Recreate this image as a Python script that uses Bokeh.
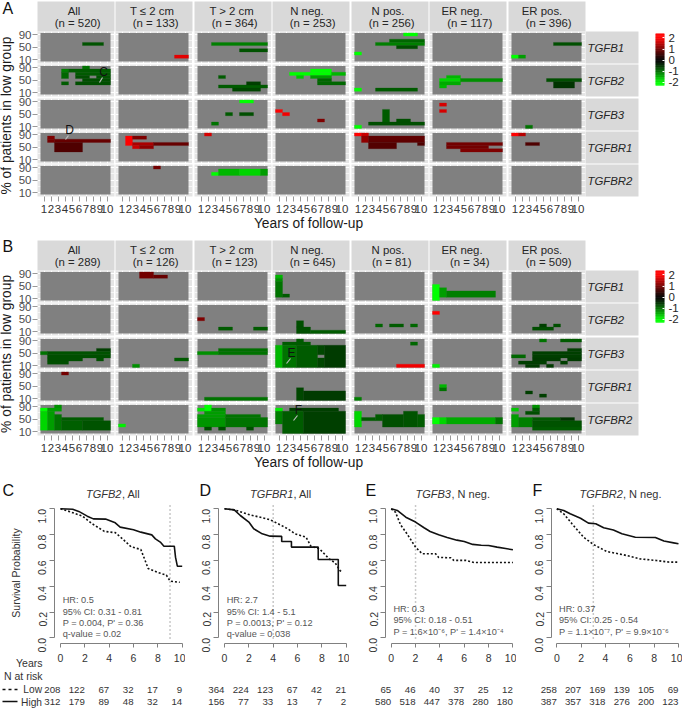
import math
from bokeh.plotting import figure
from bokeh.embed import file_html
from bokeh.resources import INLINE
from bokeh.core.properties import value
from bokeh.models import (ColumnDataSource, Range1d, LinearAxis, Grid, FixedTicker, LinearColorMapper,
                          NumeralTickFormatter, Label, Column)
from bokeh.transform import transform

# ------------------------------------------------------------------ data
GROUPS = ["All", "T ≤ 2 cm", "T > 2 cm", "N neg.", "N pos.", "ER neg.", "ER pos."]
GENES = ["TGFB1", "TGFB2", "TGFB3", "TGFBR1", "TGFBR2"]
N_A = [520, 133, 364, 253, 256, 117, 396]
N_B = [289, 126, 123, 645, 81, 34, 509]
YEAR_TICKS = [1, 2, 3, 4, 5, 6, 7, 8, 9, 10]
PCT_LEVELS = [10, 20, 30, 40, 50, 60, 70, 80, 90]
PCT_TICKS = [10, 50, 90]
LEGEND_TICKS = [-2, -1, 0, 1, 2]

# runs of significant cells: (group, percent levels, first year, last year, log-scale value)
A_TGFB1 = [
    ("All", (60,), 7, 9, -0.75), ("T ≤ 2 cm", (20,), 9, 10, 1.8),
    ("T > 2 cm", (60,), 3, 10, -1.1), ("T > 2 cm", (40,), 7, 10, -0.75),
    ("N pos.", (90,), 8, 9, -2), ("N pos.", (70,), 6, 10, -0.9), ("N pos.", (60,), 4, 10, -1.1),
    ("N pos.", (50,), 7, 9, -0.7), ("N pos.", (30,), 1, 1, -2),
    ("ER pos.", (60,), 7, 10, -0.7), ("ER pos.", (20,), 1, 1, -2), ("ER pos.", (20,), 2, 2, -1.3),
]
A_TGFB2 = [
    ("All", (90,), 7, 7, -1.0), ("All", (80,), 4, 4, -1.1), ("All", (80,), 5, 10, -0.8),
    ("All", (70, 60), 4, 4, -0.9), ("All", (70,), 6, 10, -0.8), ("All", (60,), 6, 7, -0.7),
    ("All", (60,), 9, 10, -0.75), ("All", (50,), 7, 10, -0.7), ("All", (40,), 4, 4, -0.8),
    ("All", (40,), 6, 10, -0.7),
    ("T > 2 cm", (60,), 4, 4, -0.8), ("T > 2 cm", (30,), 4, 10, -0.8),
    ("T > 2 cm", (20,), 6, 9, -0.65), ("T > 2 cm", (40,), 8, 9, -0.6),
    ("N neg.", (80,), 6, 8, -2), ("N neg.", (70,), 3, 8, -2), ("N neg.", (70,), 9, 10, -1.5),
    ("N neg.", (60,), 4, 4, -1.6), ("N neg.", (60,), 6, 8, -1.3), ("N neg.", (50,), 7, 8, -0.9),
    ("N neg.", (40,), 7, 10, -0.9),
    ("N pos.", (20,), 1, 1, -2), ("N pos.", (20,), 4, 9, -0.8),
    ("ER neg.", (60,), 3, 4, -1.5), ("ER neg.", (50,), 2, 4, -1.7), ("ER neg.", (50,), 5, 10, -1.2),
    ("ER neg.", (40,), 2, 4, -1.4), ("ER neg.", (30,), 2, 2, -1.5),
    ("ER pos.", (50,), 6, 10, -0.7), ("ER pos.", (40, 30), 7, 9, -0.5),
]
A_TGFB3 = [
    ("T > 2 cm", (90,), 7, 8, -2), ("T > 2 cm", (50,), 5, 5, -0.8), ("T > 2 cm", (50,), 7, 8, -0.7),
    ("T > 2 cm", (20,), 3, 3, -1.0),
    ("N neg.", (60,), 1, 1, 2), ("N neg.", (50,), 2, 2, 1.9), ("N neg.", (30,), 7, 7, 1.1),
    ("N pos.", (10,), 1, 1, -2), ("N pos.", (20,), 3, 10, -0.7), ("N pos.", (60, 50, 40, 30), 5, 5, -0.8),
    ("N pos.", (30,), 7, 8, -0.7),
    ("ER neg.", (80, 60), 2, 2, 1.7),
    ("ER pos.", (10,), 3, 3, -1.0),
]
A_TGFBR1 = [
    ("All", (80,), 2, 2, 1.1), ("All", (70,), 2, 2, 1.0), ("All", (70,), 3, 10, 0.9),
    ("All", (60, 50, 40), 3, 6, 0.7),
    ("T ≤ 2 cm", (80, 70, 60), 2, 2, 2), ("T ≤ 2 cm", (80,), 3, 4, 1.1), ("T ≤ 2 cm", (60,), 3, 5, 1.4),
    ("T ≤ 2 cm", (60,), 6, 10, 0.9), ("T ≤ 2 cm", (50,), 3, 3, 1.6), ("T ≤ 2 cm", (50,), 4, 5, 1.2),
    ("T > 2 cm", (90,), 2, 2, 1.7),
    ("N pos.", (90,), 1, 1, 2), ("N pos.", (90,), 2, 2, 1.6), ("N pos.", (80, 70), 2, 2, 1.2),
    ("N pos.", (80, 70), 3, 10, 0.85), ("N pos.", (60, 50), 3, 6, 0.75), ("N pos.", (60,), 10, 10, 0.7),
    ("ER neg.", (60,), 3, 10, 1.0), ("ER neg.", (50,), 3, 8, 1.0), ("ER neg.", (40,), 5, 10, 1.1),
    ("ER pos.", (90,), 1, 1, 2), ("ER pos.", (90,), 2, 2, 1.5), ("ER pos.", (60,), 3, 4, 0.7),
]
A_TGFBR2 = [
    ("T ≤ 2 cm", (90,), 6, 6, 1.0),
    ("T > 2 cm", (70,), 3, 3, -2), ("T > 2 cm", (80, 70), 4, 6, -1.5), ("T > 2 cm", (80, 70), 7, 9, -1.7),
    ("T > 2 cm", (80, 70), 10, 10, -1.3),
]
B_TGFB1 = [
    ("T ≤ 2 cm", (90, 80), 4, 5, 1.0), ("T ≤ 2 cm", (80,), 6, 7, 0.9),
    ("N neg.", (80,), 1, 1, -1.5), ("N neg.", (70,), 1, 1, -1.2), ("N neg.", (60, 50, 40, 30, 20), 1, 1, -1.0),
    ("N neg.", (20,), 2, 2, -0.8),
    ("ER neg.", (50, 40, 30, 20, 10), 1, 1, -2), ("ER neg.", (40, 30, 20), 2, 2, -1.3),
    ("ER neg.", (30, 20), 3, 9, -1.1),
]
B_TGFB2 = [
    ("T > 2 cm", (50,), 1, 1, 1.1), ("T > 2 cm", (20,), 4, 5, -0.8), ("T > 2 cm", (20,), 9, 10, -0.8),
    ("N neg.", (40, 30), 4, 4, -0.7), ("N neg.", (20, 10), 4, 5, -0.7), ("N neg.", (10,), 6, 10, -0.8),
    ("N pos.", (30,), 4, 4, -0.9), ("N pos.", (30,), 6, 7, -0.8), ("N pos.", (30,), 9, 9, -0.9),
    ("ER neg.", (70,), 1, 1, 2),
    ("ER pos.", (20,), 4, 6, -0.7), ("ER pos.", (30,), 5, 5, -0.6), ("ER pos.", (30,), 7, 7, -0.7),
]
B_TGFB3 = [
    ("All", (60,), 9, 10, -0.6), ("All", (50,), 1, 1, -1.0), ("All", (50,), 2, 10, -0.75),
    ("All", (40,), 2, 10, -0.7), ("All", (30,), 2, 6, -0.7), ("All", (30,), 9, 9, -0.7),
    ("All", (20,), 2, 4, -0.7),
    ("T ≤ 2 cm", (10,), 3, 3, -1.2), ("T ≤ 2 cm", (30,), 9, 10, -0.8),
    ("T > 2 cm", (50,), 1, 3, -1.2), ("T > 2 cm", (50,), 4, 10, -1.0), ("T > 2 cm", (60,), 4, 10, -0.95),
    ("N neg.", (90,), 4, 4, -0.8), ("N neg.", (80,), 2, 5, -0.8),
    ("N neg.", (70, 60, 50, 40, 30, 20, 10), 1, 1, -1.5), ("N neg.", (70, 60, 50, 40, 30, 20, 10), 2, 3, -1.0),
    ("N neg.", (70, 60, 50, 40, 30, 20, 10), 4, 6, -0.8), ("N neg.", (70, 60, 50, 30, 20, 10), 7, 7, -0.65),
    ("N neg.", (70, 60, 50, 40, 30, 20, 10), 8, 10, -0.55),
    ("N pos.", (80,), 9, 9, -0.9), ("N pos.", (10,), 7, 10, 1.9),
    ("ER neg.", (10,), 1, 1, -1.9),
    ("ER pos.", (90,), 5, 5, -1.0), ("ER pos.", (90,), 8, 10, -0.8), ("ER pos.", (60,), 9, 10, -0.6),
    ("ER pos.", (50,), 4, 10, -0.6), ("ER pos.", (40,), 1, 2, -0.9), ("ER pos.", (40,), 4, 10, -0.6),
    ("ER pos.", (30,), 4, 7, -0.55), ("ER pos.", (30,), 9, 10, -0.55), ("ER pos.", (20,), 2, 5, -0.6),
    ("ER pos.", (20,), 8, 8, -0.6), ("ER pos.", (10,), 3, 4, -0.55), ("ER pos.", (10,), 6, 6, -0.55),
]
B_TGFBR1 = [
    ("All", (90,), 4, 4, 1.0),
    ("T > 2 cm", (10,), 2, 10, -1.0),
    ("N neg.", (40, 30, 20, 10), 4, 4, -0.65), ("N neg.", (30, 20, 10), 5, 10, -0.55),
    ("N pos.", (10,), 1, 1, -1.1),
    ("ER neg.", (50,), 2, 2, -1.5), ("ER neg.", (40,), 2, 2, -1.0),
    ("ER pos.", (30,), 3, 3, -0.6), ("ER pos.", (20,), 5, 5, -0.6),
]
B_TGFBR2 = [
    ("All", (90,), 3, 3, -1.2), ("All", (80,), 1, 1, -2), ("All", (80,), 2, 3, -1.3),
    ("All", (70, 60, 50, 40, 30, 20), 1, 1, -1.7), ("All", (70, 60, 50, 40, 30, 20), 2, 2, -1.3),
    ("All", (60, 50, 40, 30, 20), 3, 3, -1.0), ("All", (50,), 4, 9, -0.8), ("All", (40, 30, 20), 4, 6, -0.85),
    ("All", (40, 30, 20), 7, 10, -0.75),
    ("T ≤ 2 cm", (30,), 1, 1, -1.9),
    ("T > 2 cm", (90, 80), 2, 2, -2), ("T > 2 cm", (80,), 1, 1, -1.8), ("T > 2 cm", (80,), 3, 4, -1.2),
    ("T > 2 cm", (70,), 2, 4, -1.3), ("T > 2 cm", (60,), 1, 4, -1.3), ("T > 2 cm", (60,), 5, 9, -1.0),
    ("T > 2 cm", (50, 40, 30), 1, 4, -1.25), ("T > 2 cm", (50, 40, 30), 5, 10, -1.0),
    ("T > 2 cm", (20,), 2, 2, -0.7), ("T > 2 cm", (20,), 4, 4, -0.7), ("T > 2 cm", (20,), 8, 8, -0.7),
    ("N neg.", (80,), 1, 1, -1.9), ("N neg.", (70, 60, 50, 40), 1, 1, -1.1),
    ("N neg.", (80,), 3, 9, -0.6), ("N neg.", (70, 60, 50, 40, 30, 20, 10), 2, 4, -0.8),
    ("N neg.", (70, 60, 50, 40, 30, 20, 10), 5, 10, -0.6),
    ("N pos.", (70, 60, 50, 40, 30), 1, 1, -1.7), ("N pos.", (50,), 2, 3, -0.8), ("N pos.", (60, 50), 4, 4, -0.8),
    ("N pos.", (60, 50, 40, 30), 5, 7, -0.7), ("N pos.", (70, 60, 50, 40, 30), 8, 9, -0.75),
    ("N pos.", (60, 50, 40, 30), 10, 10, -0.8),
    ("ER neg.", (50, 40), 1, 1, -2), ("ER neg.", (50, 40), 2, 2, -1.7), ("ER neg.", (50, 40), 3, 9, -1.4),
    ("ER neg.", (50, 40), 10, 10, -1.0),
    ("ER pos.", (80,), 1, 1, -1.6), ("ER pos.", (90,), 4, 4, -1.2), ("ER pos.", (80,), 4, 4, -0.8),
    ("ER pos.", (70,), 3, 4, -0.7), ("ER pos.", (60, 50, 40, 30), 1, 1, -1.3),
    ("ER pos.", (50, 40, 30), 2, 3, -1.1), ("ER pos.", (50,), 4, 7, -0.8), ("ER pos.", (50,), 8, 9, -0.5),
    ("ER pos.", (40, 30), 4, 10, -0.75), ("ER pos.", (20,), 4, 10, -0.8),
]
RUNS_A = [A_TGFB1, A_TGFB2, A_TGFB3, A_TGFBR1, A_TGFBR2]
RUNS_B = [B_TGFB1, B_TGFB2, B_TGFB3, B_TGFBR1, B_TGFBR2]

# survival curves
C_high_t = [0, 1, 1.5, 2.2, 2.7, 3.7, 4.5, 4.9, 6.0, 6.6, 7.5, 7.8, 8.2, 8.5, 9.35, 9.45, 9.6, 10]
C_high_s = [1, .997, .98, .943, .922, .92, .891, .858, .837, .819, .798, .767, .742, .71, .71, .625, .555, .555]
C_low_t = [0, .7, 1.8, 2.6, 3.6, 4.5, 5.1, 5.8, 6.6, 7.0, 7.2, 8.0, 8.7, 9.0, 9.8]
C_low_s = [1, .98, .943, .884, .825, .815, .767, .705, .685, .588, .537, .506, .486, .44, .43]
D_high_t = [0, .8, 1.3, 2, 2.4, 3.1, 3.75, 4.7, 4.7, 5.5, 5.5, 7.7, 7.7, 9.35, 9.35, 10]
D_high_s = [1, .992, .948, .897, .845, .806, .788, .786, .747, .747, .703, .703, .607, .607, .406, .406]
D_low_t = [0, .8, 2.1, 3.5, 4, 5.2, 5.8, 6.7, 7.1, 7.8, 8.6, 9.1, 9.5, 9.7]
D_low_s = [1, .992, .953, .922, .904, .845, .806, .78, .71, .69, .612, .58, .52, .51]
E_high_t = [0, .5, 1.2, 2, 2.7, 3.2, 3.9, 4.6, 5.4, 6, 6.7, 7.4, 8, 8.7, 9.4, 10]
E_high_s = [1, .987, .935, .897, .853, .824, .798, .778, .757, .747, .724, .718, .716, .703, .692, .682]
E_low_t = [0, .35, .77, 1.3, 2, 2.55, 3.65, 3.9, 4.9, 5.15, 6.1, 6.8, 10]
E_low_s = [1, .974, .876, .806, .703, .651, .651, .623, .62, .6, .6, .584, .584]
F_high_t = [0, .57, 1.1, 1.95, 2.6, 3.2, 3.85, 4.65, 5.35, 6.45, 8.1, 8.8, 9.6, 10]
F_high_s = [1, .987, .961, .927, .889, .884, .853, .835, .806, .78, .778, .75, .736, .729]
F_low_t = [0, .57, 1.25, 2.2, 3, 4.1, 5.5, 6.85, 8.2, 9.2, 10]
F_low_s = [1, .961, .884, .78, .724, .669, .643, .612, .599, .587, .587]
CUT_YEARS = [9, 4, 2, 3]
RISK_YEARS = [0, 2, 4, 6, 8, 10]
RISK_LOW = [[208, 122, 67, 32, 17, 9], [364, 224, 123, 67, 42, 21], [65, 46, 40, 37, 25, 12], [258, 207, 169, 139, 105, 69]]
RISK_HIGH = [[312, 179, 89, 48, 32, 14], [156, 77, 33, 13, 7, 2], [580, 518, 447, 378, 280, 180], [387, 357, 318, 276, 200, 123]]
S_TICKS = [0, .2, .4, .6, .8, 1]
T_TICKS = [0, 2, 4, 6, 8, 10]
KM_GENE = ["TGFB2", "TGFBR1", "TGFB3", "TGFBR2"]
KM_GROUP = [", All", ", All", ", N neg.", ", N neg."]
KM_STATS = [
    ["HR: 0.5", "95% CI: 0.31 - 0.81", "P = 0.004, P' = 0.36", "q-value = 0.02"],
    ["HR: 2.7", "95% CI: 1.4 - 5.1", "P = 0.0013, P' = 0.12", "q-value = 0.038"],
    ["HR: 0.3", "95% CI: 0.18 - 0.51", "P = 1.6×10⁻⁶, P' = 1.4×10⁻⁴"],
    ["HR: 0.37", "95% CI: 0.25 - 0.54", "P = 1.1×10⁻⁷, P' = 9.9×10⁻⁶"],
]
KM_CURVES = [(C_low_t, C_low_s, C_high_t, C_high_s), (D_low_t, D_low_s, D_high_t, D_high_s),
             (E_low_t, E_low_s, E_high_t, E_high_s), (F_low_t, F_low_s, F_high_t, F_high_s)]

# ------------------------------------------------------------------ style and layout
FONT = "Liberation Sans"
PW, PH = 77, 32
PANEL_X = [37, 115, 194, 272, 351, 429, 508]
ROW_Y = [31, 64, 98, 131, 164]
B_SHIFT = 239
STRIP_DX = [-2, -2, -1.3, -4, -2, -6, -5]
CELL = 7.0
GAMMA = 1.15
GREEN_RED = []
for i in range(129):
    g = int(round(255 * ((64 - i) / 64) ** GAMMA)) if i <= 64 else 0
    r = int(round(255 * ((i - 64) / 64) ** GAMMA)) if i > 64 else 0
    GREEN_RED.append("#%02x%02x00" % (r, g))
MAPPER = LinearColorMapper(palette=GREEN_RED, low=-2, high=2)


def place(fig, left, top):
    fig.styles = {"position": "absolute", "left": f"{left}px", "top": f"{top}px"}
    return fig


def bare(width, height, x_range, y_range, **borders):
    fig = figure(width=width, height=height, x_range=x_range, y_range=y_range, toolbar_location=None,
                 output_backend="svg", x_axis_location=None, y_axis_location=None, min_border=0,
                 min_border_left=borders.get("left", 0), min_border_right=borders.get("right", 0),
                 min_border_top=borders.get("top", 0), min_border_bottom=borders.get("bottom", 0),
                 background_fill_color=None, border_fill_color=None, outline_line_color=None,
                 tools="", frame_align=False)
    fig.grid.visible = False
    return fig


def panel(runs, group, is_left, is_bottom, left, top):
    L = 37 if is_left else 0
    T = 6 if is_left else 0
    B = 30 if is_bottom else (6 if is_left else 0)
    R = 6 if is_bottom else 0
    x0 = min(YEAR_TICKS) - 0.5 - 3.0 / CELL
    x_range = Range1d(x0, x0 + PW / CELL)
    y_range = Range1d(-1.7, 99.5)
    p = bare(PW + L + R, PH + T + B, x_range, y_range, left=L, bottom=B, top=T, right=R)
    p.background_fill_color = "#e5e5e5"
    p.add_layout(Grid(dimension=0, ticker=FixedTicker(ticks=YEAR_TICKS), grid_line_color="white", grid_line_width=1))
    p.add_layout(Grid(dimension=1, ticker=FixedTicker(ticks=PCT_TICKS, minor_ticks=[30, 70]), grid_line_color="white",
                      grid_line_width=1, minor_grid_line_color="white", minor_grid_line_width=0.6))
    p.quad(left=[min(YEAR_TICKS) - 0.5], right=[max(YEAR_TICKS) + 0.5], bottom=[min(PCT_LEVELS) - 5],
           top=[max(PCT_LEVELS) + 5], fill_color="#808080", line_color=None)
    src = {"left": [], "right": [], "bottom": [], "top": [], "val": []}
    for g, pcts, y0, y1, val in runs:
        if g != group:
            continue
        spans = []
        for pct in sorted(pcts):
            if spans and spans[-1][1] == pct - 10:
                spans[-1][1] = pct
            else:
                spans.append([pct, pct])
        for lo, hi in spans:
            src["left"].append(y0 - 0.5)
            src["right"].append(y1 + 0.5)
            src["bottom"].append(lo - 5)
            src["top"].append(hi + 5)
            src["val"].append(val)
    if src["val"]:
        p.quad(left="left", right="right", bottom="bottom", top="top", source=ColumnDataSource(src),
               fill_color=transform("val", MAPPER), line_color=transform("val", MAPPER), line_width=0.3)
    if is_left:
        ax = LinearAxis(ticker=FixedTicker(ticks=PCT_TICKS), axis_line_color=None, major_tick_line_color="#999999",
                        major_tick_in=0, major_tick_out=5, minor_tick_line_color=None,
                        major_label_text_font=FONT, major_label_text_font_size="11.5px",
                        major_label_text_color="#4d4d4d", major_label_standoff=1)
        p.add_layout(ax, "left")
    if is_bottom:
        ax = LinearAxis(ticker=FixedTicker(ticks=YEAR_TICKS), axis_line_color=None, major_tick_line_color="#999999",
                        major_tick_in=0, major_tick_out=5, minor_tick_line_color=None,
                        major_label_text_font=FONT, major_label_text_font_size="11.5px",
                        major_label_text_color="#333333", major_label_standoff=3)
        p.add_layout(ax, "below")
    return place(p, left - L, top - T)


# page-wide layers for strips and labels
under = bare(685, 709, Range1d(0, 685), Range1d(709, 0))
over = bare(685, 709, Range1d(0, 685), Range1d(709, 0))


def txt(fig, x, y, s, size, color="#262626", align="center", style="normal", angle=0):
    fig.text(x=[x], y=[y], text=[s], text_font=value(FONT), text_font_size=f"{size}px", text_color=color,
             text_align=align, text_baseline="middle", text_font_style=style, angle=angle)


def block(runs_all, ns, shift):
    figs = []
    for c, g in enumerate(GROUPS):
        left = PANEL_X[c]
        under.quad(left=[left], right=[left + PW], top=[1 + shift], bottom=[31 + shift],
                   fill_color="#d9d9d9", line_color=None)
        cx = left + PW / 2
        txt(under, cx + STRIP_DX[c], 10.7 + shift, g, 11.4)
        txt(under, cx + 1.7, 22.7 + shift, f"(n = {ns[c]})", 11.4)
    for r, gene in enumerate(GENES):
        top = ROW_Y[r] + shift
        under.quad(left=[585], right=[638], top=[top], bottom=[top + PH], fill_color="#d9d9d9", line_color=None)
        txt(under, 587, top + 16.3, gene, 11.4, align="left", style="italic")
        for c, g in enumerate(GROUPS):
            figs.append(panel(runs_all[r], g, c == 0, r == len(GENES) - 1, PANEL_X[c], top))
    txt(under, 6, 115 + shift * 0.9975, "% of patients in low group", 13.8, color="#1a1a1a", angle=math.pi / 2)
    txt(under, 308, 222.7 + shift, "Years of follow-up", 13.8, color="#1a1a1a")
    return figs


def legend(top):
    steps = [-2.3 + i * 0.05 for i in range(95)]
    colors = [GREEN_RED[min(128, max(0, int(round((s + 2) / 4 * 128))))] for s in steps]
    p = bare(9 + 24, 52 + 14, Range1d(0, 1), Range1d(-2.27, 2.4), right=24, top=7, bottom=7)
    p.quad(left=[0] * len(steps), right=[1] * len(steps), bottom=[s - 0.03 for s in steps], top=[s + 0.03 for s in steps],
           fill_color=colors, line_color=colors, line_width=0.3)
    ax = LinearAxis(ticker=FixedTicker(ticks=LEGEND_TICKS), axis_line_color=None, major_tick_line_color="white",
                    major_tick_in=2, major_tick_out=0, minor_tick_line_color=None, major_label_text_font=FONT,
                    major_label_text_font_size="11.5px", major_label_text_color="#262626", major_label_standoff=4,
                    major_label_overrides={-2: "-2", -1: "-1", 0: "0", 1: "1", 2: "2"})
    p.add_layout(ax, "right")
    return place(p, 655, top - 7)


panels = block(RUNS_A, N_A, 0) + block(RUNS_B, N_B, B_SHIFT)
panels += [legend(33), legend(270)]

# ------------------------------------------------------------------ survival panels
KM_AXIS = [54, 218, 385, 551]
KM_X0 = [60, 224, 390.7, 556.3]
PX_PER_YEAR = 12.17
PX_PER_S = 129.0
Y_S1 = 508.3
AX_Y = 643
KM_TOP = 500
KM_BOTTOM = 670


def s_at(py):
    return 1 - (py - Y_S1) / PX_PER_S


def km(i):
    L, W = 30, 131
    x0 = (KM_AXIS[i] - KM_X0[i]) / PX_PER_YEAR
    p = bare(L + W, KM_BOTTOM - KM_TOP, Range1d(x0, x0 + W / PX_PER_YEAR), Range1d(s_at(AX_Y), s_at(KM_TOP)),
             left=L, bottom=KM_BOTTOM - AX_Y)
    lt, ls, ht, hs = KM_CURVES[i]
    p.segment(x0=[CUT_YEARS[i]], x1=[CUT_YEARS[i]], y0=[-0.01], y1=[1.04], line_color="#c8c8c8", line_dash="2 2", line_width=1.5)
    p.line(lt, ls, line_color="#111111", line_width=1.6, line_dash="2 2")
    p.line(ht, hs, line_color="#111111", line_width=1.6)
    xa = LinearAxis(ticker=FixedTicker(ticks=T_TICKS), bounds=(min(T_TICKS), max(T_TICKS)), axis_line_color="#808080",
                    major_tick_line_color="#808080", major_tick_in=0, major_tick_out=4, minor_tick_line_color=None,
                    major_label_text_font=FONT, major_label_text_font_size="10.5px", major_label_text_color="#333333",
                    major_label_standoff=6)
    p.add_layout(xa, "below")
    ya = LinearAxis(ticker=FixedTicker(ticks=S_TICKS), bounds=(min(S_TICKS), max(S_TICKS)), axis_line_color="#808080",
                    major_tick_line_color="#808080", major_tick_in=0, major_tick_out=5, minor_tick_line_color=None,
                    major_label_text_font=FONT, major_label_text_font_size="10.5px", major_label_text_color="#333333",
                    major_label_standoff=7, major_label_orientation=math.pi / 2, formatter=NumeralTickFormatter(format="0.0"))
    p.add_layout(ya, "left")
    for k, line in enumerate(KM_STATS[i]):
        py = (599.7 if i < 2 else 608.3) + k * 11.4
        p.add_layout(Label(x=0.18, y=s_at(py), text=line, text_font=FONT, text_font_size="9.2px",
                           text_color="#555555", text_baseline="middle"))
    return place(p, KM_AXIS[i] - L, KM_TOP)


kms = [km(i) for i in range(4)]

# ------------------------------------------------------------------ labels above everything
for s, x, y in (("A", 2, 8), ("B", 2, 246), ("C", 2, 490), ("D", 199, 490), ("E", 365, 490), ("F", 532, 490)):
    txt(over, x, y, s, 16, color="#111111", align="left")
for s, x, y, tx, ty in (("C", 103, 71, 99, 82), ("D", 69, 129, 65, 139), ("E", 291, 352, 286, 363), ("F", 298, 409, 293, 420)):
    txt(over, x, y, s, 12, color="#111111")
    over.segment(x0=[x - 1], y0=[y + 6], x1=[tx], y1=[ty], line_color="#bdbdbd", line_width=1.2)
txt(over, 15, 572.5, "Survival Probability", 10.5, color="#333333", angle=math.pi / 2)
txt(over, 42, 662.7, "Years", 10.5, color="#333333", align="right")
txt(over, 42, 675.3, "N at risk", 10.5, color="#333333", align="right")
txt(over, 41.5, 689, "Low", 10.2, color="#333333", align="right")
txt(over, 41.5, 701.5, "High", 10.2, color="#333333", align="right")
over.segment(x0=[2], x1=[17], y0=[689], y1=[689], line_color="#111111", line_width=1.5, line_dash="3 3")
over.segment(x0=[2], x1=[17], y0=[701], y1=[701], line_color="#111111", line_width=1.5)
KM_TITLE_X = [85.5, 249.5, 415, 579]
for i in range(4):
    txt(over, KM_TITLE_X[i], 493, KM_GENE[i], 11, color="#333333", align="left", style="italic")
    txt(over, KM_TITLE_X[i] + (43.5 if "R" in KM_GENE[i] else 36), 493, KM_GROUP[i], 11, color="#333333", align="left")
    for yrow, row in ((689, RISK_LOW[i]), (701.5, RISK_HIGH[i])):
        for t, n in zip(RISK_YEARS, row):
            txt(over, KM_X0[i] + t * PX_PER_YEAR, yrow, str(n), 9.7, color="#333333", align="right")

root = Column(children=[place(under, 0, 0)] + panels + kms + [place(over, 0, 0)], width=685, height=709,
              styles={"position": "absolute", "left": "0px", "top": "0px"})
open("out.html", "w").write(file_html(root, INLINE))
